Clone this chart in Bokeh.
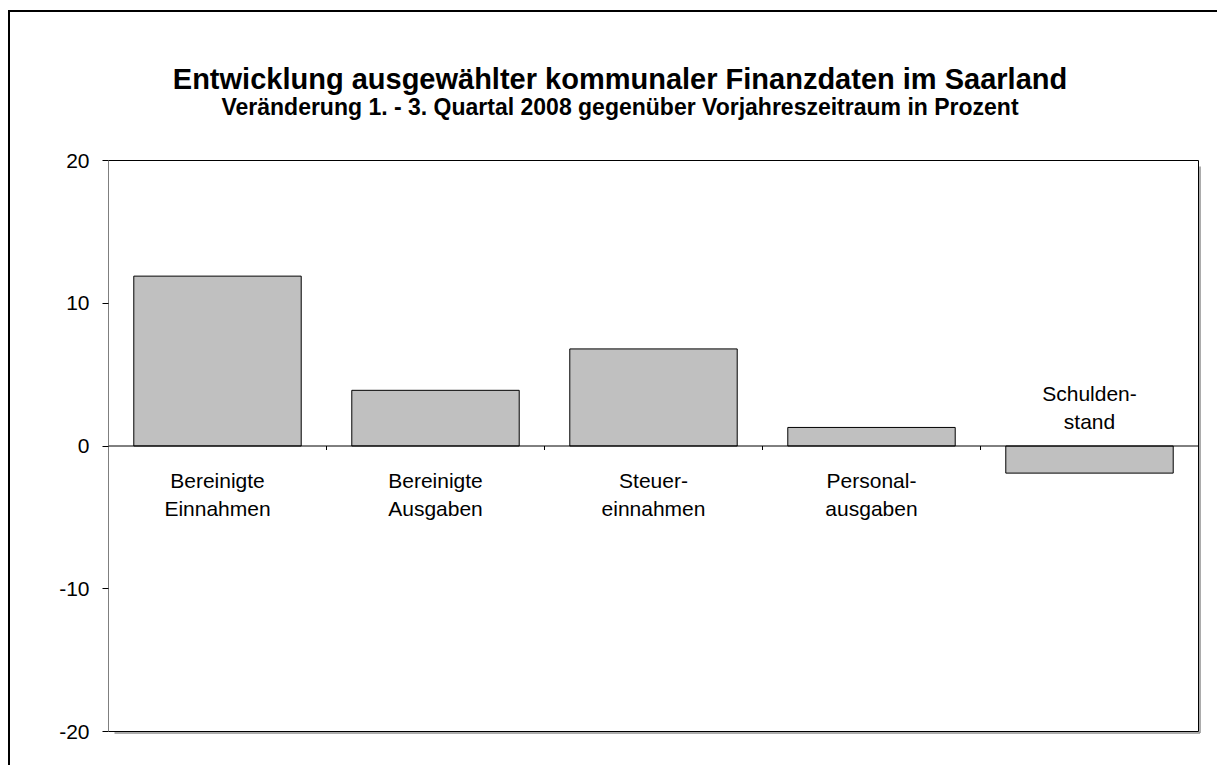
from bokeh.plotting import figure
from bokeh.models import Range1d, FixedTicker
from bokeh.embed import file_html
from bokeh.resources import INLINE
from bokeh.core.properties import value

# ---- data ----
categories = ["Bereinigte\nEinnahmen", "Bereinigte\nAusgaben", "Steuer-\neinnahmen",
              "Personal-\nausgaben", "Schulden-\nstand"]
values = [11.9, 3.9, 6.8, 1.3, -1.9]
y_ticks = [-20, -10, 0, 10, 20]
title_text = "Entwicklung ausgewählter kommunaler Finanzdaten im Saarland"
subtitle_text = "Veränderung 1. - 3. Quartal 2008 gegenüber Vorjahreszeitraum in Prozent"

FONT = "Liberation Sans"
# ---- layout (page pixels) ----
OX, OY = 10, 12                   # canvas position on the page (via margin)
PAGE_W, PAGE_H = 1219, 767
BOX_L, BOX_T, BOX_R, BOX_B = 108, 160, 1198, 731   # visible plot box
W, H = PAGE_W - OX, PAGE_H - OY
px_x = (BOX_R - BOX_L) / len(categories)
px_y = (BOX_B - BOX_T) / (y_ticks[-1] - y_ticks[0])

x0, x1 = 0, len(categories)
y0, y1 = y_ticks[0], y_ticks[-1]
x_end = x1 + (PAGE_W - BOX_R) / px_x
y_start = y0 - (PAGE_H - BOX_B) / px_y
y_end = y1 + (BOX_T - OY) / px_y

p = figure(width=W, height=H, output_backend="svg", toolbar_location=None,
           x_range=Range1d(x0, x_end), y_range=Range1d(y_start, y_end),
           x_axis_location=None,
           min_border_left=BOX_L - OX, min_border_right=0, min_border_top=0, min_border_bottom=0)
p.margin = (OY, 0, 0, OX)
p.styles = {"box-shadow": "-2px -2px 0px 0px black"}
p.grid.visible = False
p.background_fill_color = "white"
p.border_fill_color = "white"
p.outline_line_color = None

ax = p.yaxis[0]
ax.ticker = FixedTicker(ticks=y_ticks)
ax.major_label_overrides = {t: str(t) for t in y_ticks}
ax.minor_tick_line_color = None
ax.major_tick_out = 6
ax.major_tick_in = 0
ax.axis_line_color = None
ax.major_tick_line_color = "black"
ax.major_label_text_font = FONT
ax.major_label_text_font_size = "21px"
ax.major_label_text_color = "black"
ax.major_label_standoff = 13

# plot box shadow and box
sx, sy = 1.5 / px_x, 1.5 / px_y
p.segment(x0=[x1 + sx, x0 + 4 * sx], y0=[y1 - 4 * sy, y0 - sy],
          x1=[x1 + sx, x1 + sx], y1=[y0 - sy, y0 - sy],
          line_color="#909090", line_width=1.5)
p.quad(left=x0, right=x1, bottom=y0, top=y1, fill_color="white",
       line_color="black", line_width=1)

xs = [i + 0.5 for i in range(len(categories))]
p.vbar(x=xs, top=values, bottom=0, width=0.768, fill_color="#C0C0C0",
       line_color="black", line_width=1)

# zero line
p.segment(x0=[x0], y0=[0], x1=[x1], y1=[0], line_color="black", line_width=1)

# category tick marks on the zero line (between categories)
bounds = list(range(1, len(categories)))
tick_len = 4 / px_y
p.segment(x0=bounds, y0=[0] * len(bounds), x1=bounds, y1=[-tick_len] * len(bounds),
          line_color="black", line_width=1)

line1 = [c.split("\n")[0] for c in categories]
line2 = [c.split("\n")[1] for c in categories]
off1 = [34.5 if v >= 0 else -52.5 for v in values]
off2 = [62.5 if v >= 0 else -24.5 for v in values]
for txt, off in ((line1, off1), (line2, off2)):
    p.text(x=xs, y=[0] * len(xs), text=txt, y_offset=off, text_align="center",
           text_baseline="alphabetic", text_font=value(FONT), text_font_size="21px",
           text_color="black")

# titles
tx = (619.5 - BOX_L) / px_x
p.text(x=[tx], y=[y1 + (BOX_T - 78) / px_y], text=[title_text], text_align="center",
       text_baseline="alphabetic", text_font=value(FONT), text_font_size="29px",
       text_font_style="bold", text_color="black")
p.text(x=[tx], y=[y1 + (BOX_T - 106) / px_y], text=[subtitle_text], text_align="center",
       text_baseline="alphabetic", text_font=value(FONT), text_font_size="23px",
       text_font_style="bold", text_color="black")

open("out.html", "w").write(file_html(p, INLINE))
